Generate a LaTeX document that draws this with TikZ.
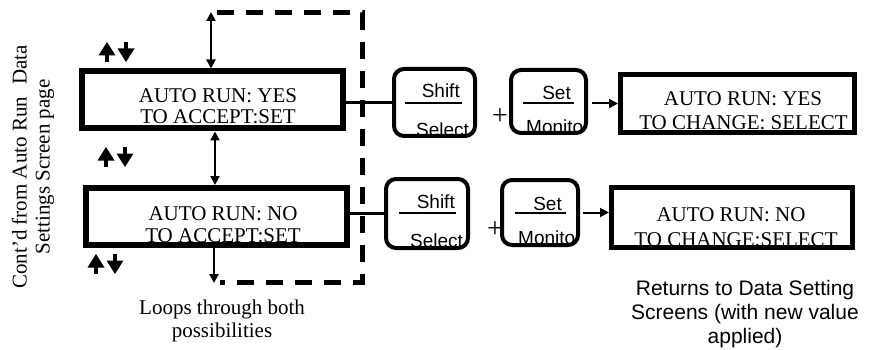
\documentclass[tikz,border=0pt]{standalone}
\usepackage{fontspec}
\setmainfont{Liberation Serif}
\setsansfont{Liberation Sans}
\usetikzlibrary{arrows.meta}
\begin{document}
\begin{tikzpicture}[x=1pt,y=-1pt,
  screen/.style={draw, line width=6pt, inner sep=0pt},
  scrtxt/.style={font=\fontsize{21}{23}\selectfont, inner sep=0pt, anchor=base},
  keybox/.style={draw, line width=4pt, rounded corners=10pt, inner sep=0pt},
  keytxt/.style={font=\sffamily\fontsize{19}{21}\selectfont, inner sep=0pt},
  bar/.style={line width=1.6pt},
  link/.style={line width=2.5pt},
  arr/.style={line width=2pt, -{Triangle[length=9pt,width=9pt]}},
  dbl/.style={line width=2pt, {Triangle[length=9pt,width=9pt]}-{Triangle[length=9pt,width=9pt]}},
  loopline/.style={line width=5pt, dash pattern=on 17pt off 12pt},
  updown/.pic={
    \fill (-18.5,3.5) -- (-10,-10) -- (-1.5,3.5) -- cycle;
    \fill (-12,3) rectangle (-8,10);
    \fill (0.5,-3.5) -- (9,10) -- (17.5,-3.5) -- cycle;
    \fill (7,-10) rectangle (11,-3);
  }
]
\useasboundingbox (0,0) rectangle (883,350);

% left rotated label
\node[rotate=90, font=\fontsize{21}{23}\selectfont, align=center, inner sep=0pt] (cont) at (33,167)
  {Cont’d from Auto Run\hspace{12pt}Data\\Settings Screen page};

% screens
\node[screen, minimum width=261pt, minimum height=57pt] (b1) at (212.5,100) {};
\node[scrtxt] (b1a) at (218,103) {AUTO RUN: YES};
\node[scrtxt] (b1b) at (218,124) {TO ACCEPT:SET};

\node[screen, minimum width=261pt, minimum height=57pt] (b2) at (216.5,216.5) {};
\node[scrtxt] (b2a) at (223,220) {AUTO RUN: NO};
\node[scrtxt] (b2b) at (223,242) {TO ACCEPT:SET};

% up/down symbols
\pic (ud1) at (117,52) {updown};
\pic (ud2) at (116,157) {updown};
\pic (ud3) at (106,264) {updown};

% loop arrows
\coordinate (top) at (211,12);
\coordinate (bot) at (214,283);
\coordinate (mx) at (215,0);
\draw[dbl] (top) -- (top |- b1.north);
\draw[dbl] (b1.south -| mx) -- (b2.north -| mx);
\draw[arr] (b2.south -| bot) -- (bot);
\draw[loopline] (217,13) -- (362,13) -- (362,282) -- (220,282);

\node[font=\fontsize{21}{23}\selectfont, align=center, inner sep=0pt] (loops) at (222,321)
  {Loops through both\\possibilities};

% row 1 keys
\node[keybox, minimum width=81pt, minimum height=67pt] (k1) at (434.5,102.5) {};
\begin{scope}
  \clip[rounded corners=7pt] ([shift={(4,-4)}]k1.south west) rectangle ([shift={(-4,4)}]k1.north east);
  \node[keytxt, anchor=base east] (k1a) at (460,98) {Shift};
  \node[keytxt, anchor=base west] (k1b) at (416,136) {Select};
\end{scope}
\draw[bar] (405,103) -- (462,103);

\node[font=\fontsize{28}{28}\selectfont, inner sep=0pt] (p1) at (500,117) {+};

\node[keybox, minimum width=75pt, minimum height=63pt] (s1) at (548.5,101.5) {};
\begin{scope}
  \clip[rounded corners=7pt] ([shift={(4,-4)}]s1.south west) rectangle ([shift={(-4,4)}]s1.north east);
  \node[keytxt, anchor=base east] (s1a) at (571,100) {Set};
  \node[keytxt, anchor=base west] (s1b) at (526,134) {Monitor};
\end{scope}
\draw[bar] (523,103) -- (574,103);

\node[screen, line width=5pt, minimum width=234pt, minimum height=58pt] (r1) at (737.5,103.5) {};
\node[scrtxt] (r1a) at (743,106) {AUTO RUN: YES};
\begin{scope}
  \clip ([shift={(3,-3)}]r1.south west) rectangle ([shift={(-3,3)}]r1.north east);
  \node[scrtxt] (r1b) at (743.5,130) {TO CHANGE: SELECT};
\end{scope}

\draw[link] (k1.west -| b1.east) -- (k1.west);
\draw[arr] ([xshift=4pt]s1.east |- r1.west) -- (r1.west);

% row 2 keys
\node[keybox, minimum width=82pt, minimum height=69pt] (k2) at (427,213.5) {};
\begin{scope}
  \clip[rounded corners=7pt] ([shift={(4,-4)}]k2.south west) rectangle ([shift={(-4,4)}]k2.north east);
  \node[keytxt, anchor=base east] (k2a) at (455,208) {Shift};
  \node[keytxt, anchor=base west] (k2b) at (410,247) {Select};
\end{scope}
\draw[bar] (399,213) -- (456,213);

\node[font=\fontsize{28}{28}\selectfont, inner sep=0pt] (p2) at (495,230) {+};

\node[keybox, minimum width=76pt, minimum height=65pt] (s2) at (540,212.5) {};
\begin{scope}
  \clip[rounded corners=7pt] ([shift={(4,-4)}]s2.south west) rectangle ([shift={(-4,4)}]s2.north east);
  \node[keytxt, anchor=base east] (s2a) at (562,210) {Set};
  \node[keytxt, anchor=base west] (s2b) at (518,244) {Monitor};
\end{scope}
\draw[bar] (515,213) -- (566,213);

\node[screen, line width=5pt, minimum width=241pt, minimum height=60pt] (r2) at (732,217.5) {};
\node[scrtxt] (r2a) at (731,221) {AUTO RUN: NO};
\begin{scope}
  \clip ([shift={(3,-3)}]r2.south west) rectangle ([shift={(-3,3)}]r2.north east);
  \node[scrtxt] (r2b) at (736,246) {TO CHANGE:SELECT};
\end{scope}

\draw[link] (k2.west -| b2.east) -- (k2.west);
\draw[arr] ([xshift=3pt]s2.east) -- (s2.east -| r2.west);

\node[font=\sffamily\fontsize{21}{24}\selectfont, align=center, inner sep=0pt] (ret) at (745,314)
  {Returns to Data Setting\\Screens (with new value\\applied)};
\end{tikzpicture}
\end{document}
